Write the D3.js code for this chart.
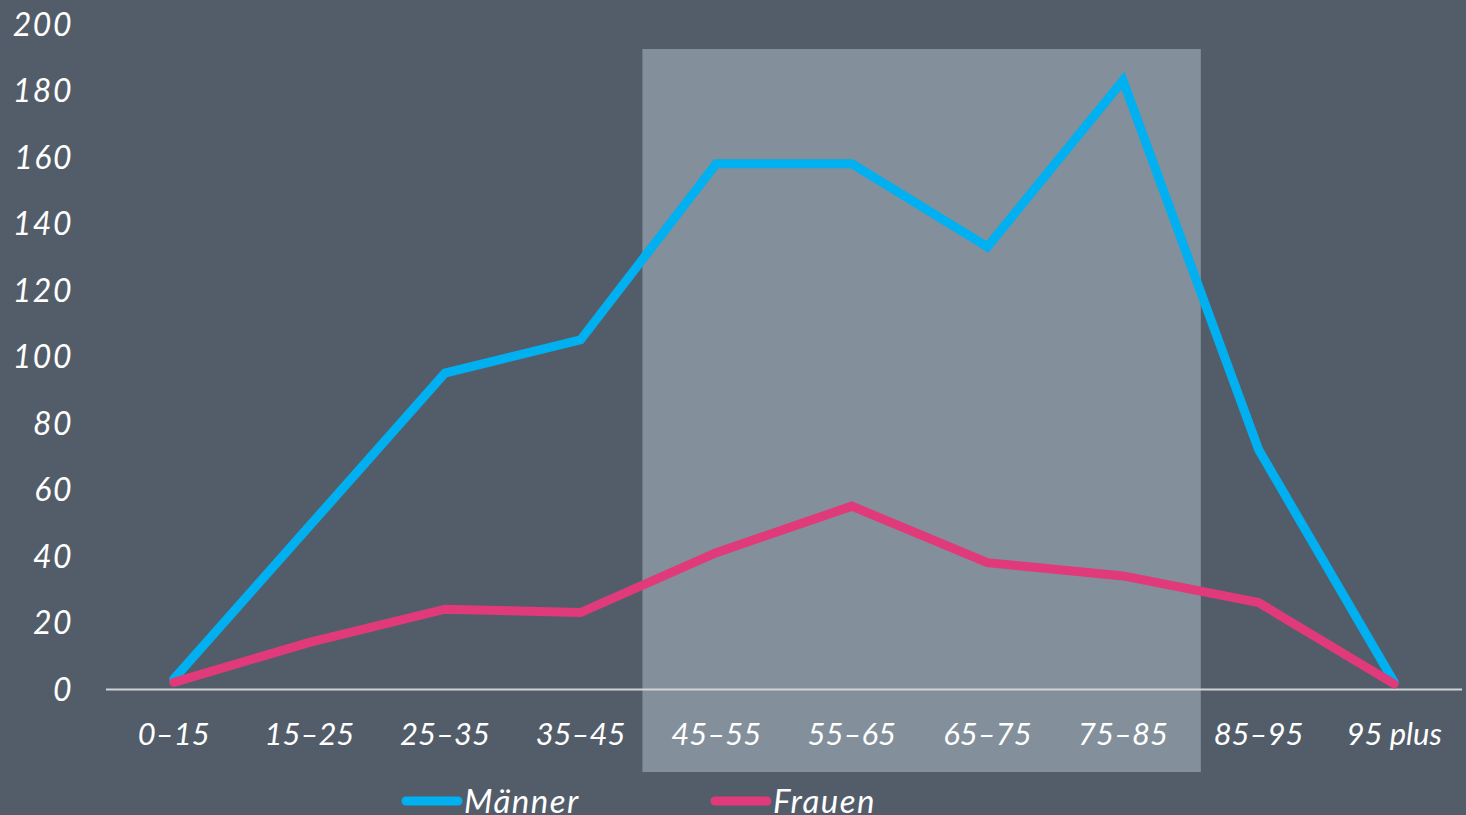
<!DOCTYPE html>
<html>
<head>
<meta charset="utf-8">
<script src="https://cdnjs.cloudflare.com/ajax/libs/d3/7.8.5/d3.min.js"></script>
<style>
  html, body { margin: 0; padding: 0; background: #525d69; overflow: hidden; }
  text { font-family: Lato, "Open Sans", sans-serif; font-style: italic; fill: #fff; }
</style>
</head>
<body>
<div id="chart"></div>
<script>
const WIDTH = 1466;
const HEIGHT = 815;

// Altersgruppen
const categories = ['0–15', '15–25', '25–35', '35–45', '45–55', '55–65', '65–75', '75–85', '85–95', '95 plus'];
const maenner = [3, 49, 95, 105, 158, 158, 133, 183, 72, 2];
const frauen = [2, 14, 24, 23, 41, 55, 38, 34, 26, 1.5];
const yTicks = [0, 20, 40, 60, 80, 100, 120, 140, 160, 180, 200];
const highlighted = ['45–55', '75–85'];

const BLUE = '#00b0f0';
const PINK = '#e03a7a';

const svg = d3.select('#chart').append('svg')
  .attr('width', WIDTH)
  .attr('height', HEIGHT);

const x = d3.scaleBand().domain(categories).range([106, 1462]);
const y = d3.scaleLinear().domain([0, 200]).range([689, 24]);
const cx = d => x(d) + x.bandwidth() / 2;

// hervorgehobener Bereich
svg.append('rect')
  .attr('x', x(highlighted[0]) - 6)
  .attr('y', 49)
  .attr('width', x(highlighted[1]) + x.bandwidth() + 10 - (x(highlighted[0]) - 6))
  .attr('height', 772 - 49)
  .attr('fill', '#838f9a');

// y-Achse (nur Beschriftung)
svg.append('g')
  .selectAll('text')
  .data(yTicks)
  .enter()
  .append('text')
  .attr('x', 73)
  .attr('y', d => y(d))
  .attr('dy', '0.36em')
  .attr('text-anchor', 'end')
  .attr('font-size', 32)
  .attr('letter-spacing', 1.5)
  .text(d => d);

// x-Achse
svg.append('line')
  .attr('x1', 106).attr('x2', 1462)
  .attr('y1', 689.5).attr('y2', 689.5)
  .attr('stroke', '#d0d4d8')
  .attr('stroke-width', 2);

svg.append('g')
  .selectAll('text')
  .data(categories)
  .enter()
  .append('text')
  .attr('x', d => cx(d))
  .attr('y', 745)
  .attr('text-anchor', 'middle')
  .attr('font-size', 31)
  .text(d => d);

const line = d3.line()
  .x((d, i) => cx(categories[i]))
  .y(d => y(d));

[[maenner, BLUE], [frauen, PINK]].forEach(([values, color]) => {
  svg.append('path')
    .datum(values)
    .attr('d', line)
    .attr('fill', 'none')
    .attr('stroke', color)
    .attr('stroke-width', 9)
    .attr('stroke-linecap', 'round')
    .attr('stroke-linejoin', 'miter');
});

// Legende
const legend = [
  { name: 'Männer', color: BLUE, x: 406 },
  { name: 'Frauen', color: PINK, x: 715 },
];

const item = svg.append('g').selectAll('g')
  .data(legend)
  .enter()
  .append('g')
  .attr('transform', d => `translate(${d.x}, 801)`);

item.append('line')
  .attr('x1', 0).attr('x2', 52)
  .attr('stroke', d => d.color)
  .attr('stroke-width', 9)
  .attr('stroke-linecap', 'round');

item.append('text')
  .attr('x', 58)
  .attr('y', 12)
  .attr('font-size', 33)
  .attr('letter-spacing', 1.5)
  .text(d => d.name);
</script>
</body>
</html>
